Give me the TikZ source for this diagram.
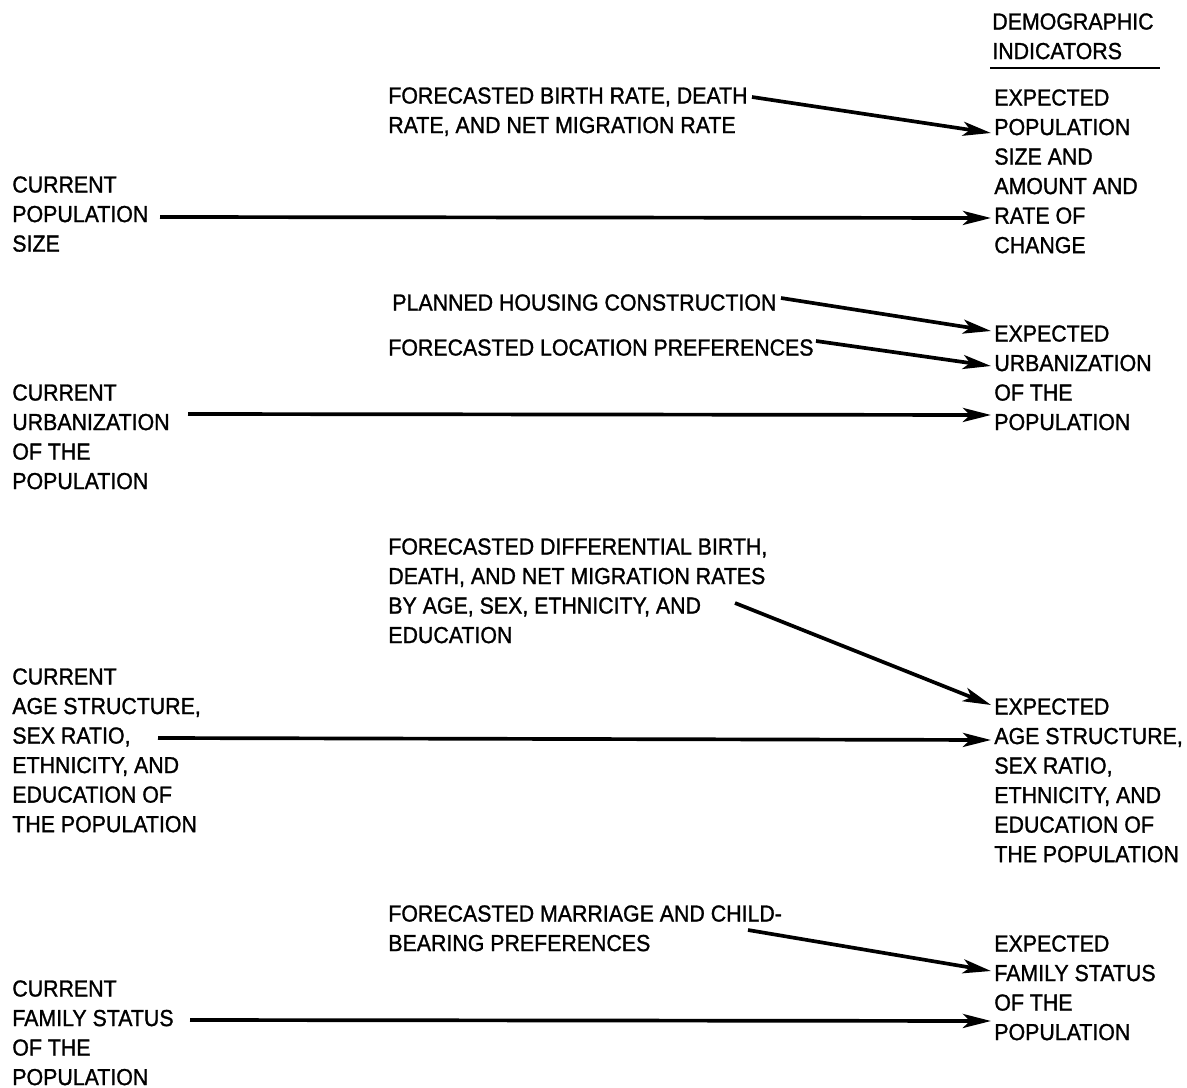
\documentclass[tikz,border=0pt]{standalone}
\usepackage{fontspec}
\setmainfont{Liberation Sans}[FakeStretch=0.92,FakeBold=1.2]
\usetikzlibrary{arrows.meta}
\begin{document}
\begin{tikzpicture}[x=0.02cm,y=-0.02cm,
  lbl/.style={anchor=north west,inner sep=0pt,align=left,
    font=\fontsize{13.2}{16.8}\selectfont},
  flow/.style={line width=2.1pt,line cap=butt,
    -{Stealth[length=16pt,width=8pt,inset=4pt]}}]
\useasboundingbox (0,0) rectangle (1187,1088);

% column heading
\node[lbl] (demo) at (992,13) {DEMOGRAPHIC\\INDICATORS};
\draw[line width=0.9pt] (990,68) -- (1160,68);

% population size
\node[lbl] (inA)  at (388,87)  {FORECASTED BIRTH RATE, DEATH\\RATE, AND NET MIGRATION RATE};
\node[lbl] (outA) at (994,89)  {EXPECTED\\POPULATION\\SIZE AND\\AMOUNT AND\\RATE OF\\CHANGE};
\node[lbl] (curA) at (12,176)  {CURRENT\\POPULATION\\SIZE};

% urbanization
\node[lbl] (inB1) at (392,294) {PLANNED HOUSING CONSTRUCTION};
\node[lbl] (inB2) at (388,339) {FORECASTED LOCATION PREFERENCES};
\node[lbl] (outB) at (994,325) {EXPECTED\\URBANIZATION\\OF THE\\POPULATION};
\node[lbl] (curB) at (12,384)  {CURRENT\\URBANIZATION\\OF THE\\POPULATION};

% age structure
\node[lbl] (inC)  at (388,538) {FORECASTED DIFFERENTIAL BIRTH,\\DEATH, AND NET MIGRATION RATES\\BY AGE, SEX, ETHNICITY, AND\\EDUCATION};
\node[lbl] (curC) at (12,668)  {CURRENT\\AGE STRUCTURE,\\SEX RATIO,\\ETHNICITY, AND\\EDUCATION OF\\THE POPULATION};
\node[lbl] (outC) at (994,698) {EXPECTED\\AGE STRUCTURE,\\SEX RATIO,\\ETHNICITY, AND\\EDUCATION OF\\THE POPULATION};

% family status
\node[lbl] (inD)  at (388,905) {FORECASTED MARRIAGE AND CHILD-\\BEARING PREFERENCES};
\node[lbl] (outD) at (994,935) {EXPECTED\\FAMILY STATUS\\OF THE\\POPULATION};
\node[lbl] (curD) at (12,980)  {CURRENT\\FAMILY STATUS\\OF THE\\POPULATION};

% arrow end points
\coordinate (a1s) at (752,97);   \coordinate (a1e) at (991,133);
\coordinate (a2s) at (160,217);  \coordinate (a2e) at (991,218);
\coordinate (a3s) at (781,298);  \coordinate (a3e) at (991,331);
\coordinate (a4s) at (816,341);  \coordinate (a4e) at (991,366);
\coordinate (a5s) at (188,414);  \coordinate (a5e) at (991,415);
\coordinate (a6s) at (735,603);  \coordinate (a6e) at (991,705);
\coordinate (a7s) at (158,738);  \coordinate (a7e) at (991,740);
\coordinate (a8s) at (748,930);  \coordinate (a8e) at (991,971);
\coordinate (a9s) at (190,1020); \coordinate (a9e) at (991,1021);

\foreach \i in {1,...,9}
  \draw[flow] (a\i s) -- (a\i e);
\end{tikzpicture}
\end{document}
